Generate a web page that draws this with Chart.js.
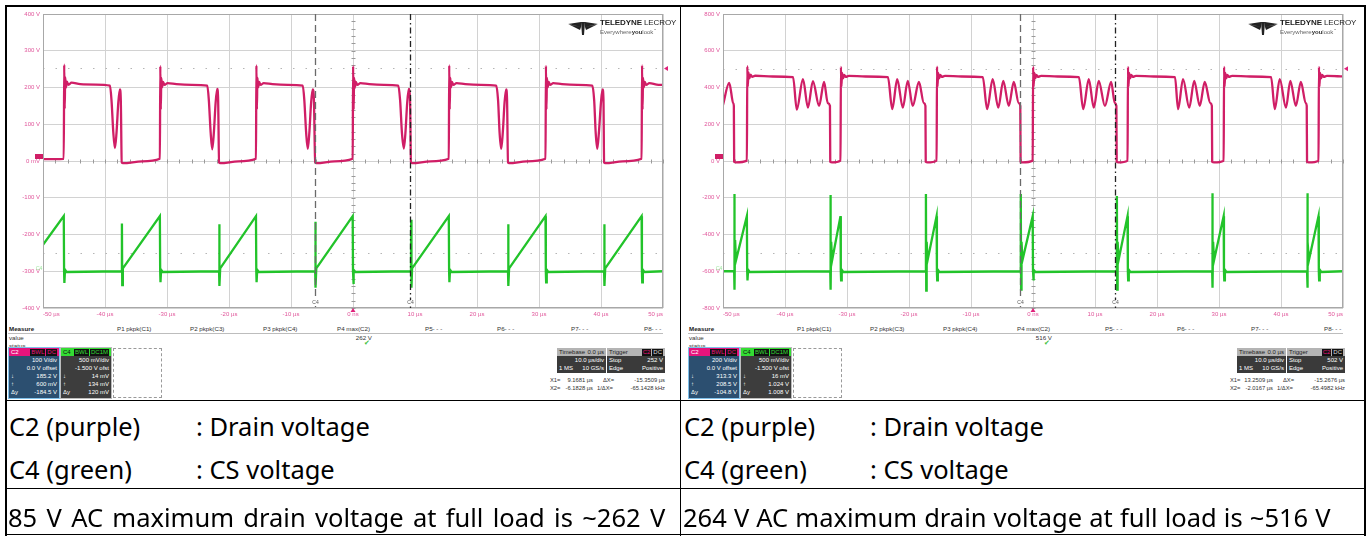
<!DOCTYPE html>
<html>
<head>
<meta charset="utf-8">
<script src="https://cdn.jsdelivr.net/npm/chart.js@4.4.1/dist/chart.umd.min.js"></script>
<style>
  body { margin: 0; width: 1370px; height: 536px; background: #fff; position: relative; overflow: hidden;
         font-family: "Liberation Sans", Arial, sans-serif; }
  .a { position: absolute; white-space: nowrap; }
  .s { font-size: 6.2px; line-height: 7px; color: #333; }
  .xs { font-size: 5.8px; line-height: 7px; color: #333; }
  .ln { position: absolute; background: #000; }
  .box { position: absolute; font-size: 6px; line-height: 8px; color: #fff; }
  .box .hd { height: 8px; position: relative; }
  .box .row { position: relative; height: 8px; padding: 0 2px; }
  .box .r { position: absolute; right: 2px; }
  .box .l { position: absolute; left: 2px; }
  .tag { display: inline-block; background: #111; padding: 0 1px; margin-left: 1px; line-height: 7px; }
  .big { position: absolute; font-family: "Noto Sans", sans-serif; font-size: 25.5px; line-height: 36px; color: #000; white-space: nowrap; }
  canvas { position: absolute; }
</style>
</head>
<body>

<canvas id="scopeL" width="672" height="318" style="left:7px;top:7px"></canvas>
<canvas id="scopeR" width="672" height="318" style="left:687px;top:7px"></canvas>

<div id="panels"></div>

<!-- table lines -->
<div class="ln" style="left:5px;top:5px;width:1361px;height:2px"></div>
<div class="ln" style="left:5px;top:5px;width:2px;height:531px"></div>
<div class="ln" style="left:680px;top:5px;width:1px;height:531px"></div>
<div class="ln" style="left:1364px;top:5px;width:2px;height:531px"></div>
<div class="ln" style="left:5px;top:400px;width:1361px;height:1px"></div>
<div class="ln" style="left:5px;top:488px;width:1361px;height:1px"></div>
<div class="ln" style="left:5px;top:534px;width:1361px;height:1px"></div>

<div class="big" style="left:9px;top:408px">C2 (purple)</div>
<div class="big" style="left:196px;top:408px">: Drain voltage</div>
<div class="big" style="left:9px;top:451px">C4 (green)</div>
<div class="big" style="left:196px;top:451px">: CS voltage</div>
<div class="big" style="left:8px;top:499px;word-spacing:2.7px">85 V AC maximum drain voltage at full load is ~262 V</div>

<div class="big" style="left:684px;top:408px">C2 (purple)</div>
<div class="big" style="left:870px;top:408px">: Drain voltage</div>
<div class="big" style="left:684px;top:451px">C4 (green)</div>
<div class="big" style="left:870px;top:451px">: CS voltage</div>
<div class="big" style="left:683px;top:499px;word-spacing:0.5px">264 V AC maximum drain voltage at full load is ~516 V</div>

<script>
// ---- data: [time in µs, volts on screen] ----
// 85 V AC, C2 drain (100 V/div)
const drainLow = [
  [-50, 5], [-46.65, 6],
  [-46.58, 262], [-46.5, 142], [-46.42, 228], [-46.3, 200], [-46.15, 216], [-45.9, 207], [-45.4, 213], [-44, 209], [-41.5, 208], [-39.2, 205],
  [-38.95, 165], [-38.65, 75], [-38.4, 35], [-38.15, 75], [-37.85, 160], [-37.6, 195], [-37.45, 165], [-37.3, -4],
  [-37.1, -6], [-34, -1], [-31.15, 6],
  [-31.08, 258], [-31.0, 140], [-30.92, 226], [-30.8, 200], [-30.65, 215], [-30.4, 207], [-29.9, 212], [-28.5, 209], [-26, 207], [-23.5, 205],
  [-23.25, 165], [-22.95, 75], [-22.7, 32], [-22.45, 75], [-22.15, 160], [-21.9, 196], [-21.75, 165], [-21.6, -4],
  [-21.4, -6], [-18.5, -1], [-15.65, 6],
  [-15.58, 260], [-15.5, 140], [-15.42, 227], [-15.3, 200], [-15.15, 215], [-14.9, 207], [-14.4, 212], [-13, 209], [-10.5, 207], [-8.1, 205],
  [-7.85, 165], [-7.55, 75], [-7.3, 33], [-7.05, 75], [-6.75, 160], [-6.5, 195], [-6.3, 165], [-6.1, -4],
  [-5.9, -6], [-3, -1], [-0.05, 6],
  [0.02, 258], [0.1, 140], [0.18, 226], [0.3, 200], [0.45, 215], [0.7, 207], [1.2, 212], [2.6, 209], [5, 207], [7.3, 205],
  [7.6, 165], [7.9, 75], [8.2, 34], [8.45, 75], [8.75, 160], [9.0, 196], [9.2, 165], [9.35, -4],
  [9.55, -6], [12.5, -1], [15.45, 6],
  [15.52, 260], [15.6, 140], [15.68, 227], [15.8, 200], [15.95, 215], [16.2, 207], [16.7, 212], [18.1, 209], [20.6, 207], [23.1, 205],
  [23.4, 165], [23.65, 75], [23.9, 33], [24.15, 75], [24.45, 160], [24.7, 195], [24.85, 165], [25.0, -4],
  [25.2, -6], [28, -1], [31.05, 6],
  [31.12, 259], [31.2, 140], [31.28, 226], [31.4, 200], [31.55, 215], [31.8, 207], [32.3, 212], [33.7, 209], [36.2, 207], [38.6, 205],
  [38.9, 165], [39.15, 75], [39.4, 33], [39.65, 75], [40.0, 160], [40.25, 195], [40.4, 165], [40.5, -4],
  [40.7, -6], [43.5, -1], [46.55, 6],
  [46.62, 260], [46.7, 140], [46.78, 226], [46.9, 200], [47.05, 215], [47.3, 207], [47.8, 212], [49, 208], [50, 207]
];
// 85 V AC, C4 current sense
const csLow = [
  [-50, -228], [-46.65, -150], [-46.6, -300], [-46.55, -332], [-46.45, -296], [-46.2, -302],
  [-37.3, -300], [-37.27, -170], [-37.22, -338], [-37.12, -292],
  [-31.15, -150], [-31.1, -300], [-31.05, -330], [-30.95, -296], [-30.7, -302],
  [-21.6, -300], [-21.57, -172], [-21.52, -340], [-21.42, -292],
  [-15.65, -150], [-15.6, -300], [-15.55, -330], [-15.45, -296], [-15.2, -302],
  [-6.1, -300], [-6.07, -165], [-6.02, -345], [-5.92, -292],
  [-0.05, -150], [0, -300], [0.05, -335], [0.15, -296], [0.4, -302],
  [9.35, -300], [9.38, -160], [9.43, -345], [9.53, -292],
  [15.45, -150], [15.5, -300], [15.55, -330], [15.65, -296], [15.9, -302],
  [25.0, -300], [25.03, -172], [25.08, -340], [25.18, -292],
  [31.05, -150], [31.1, -300], [31.15, -330], [31.25, -296], [31.5, -302],
  [40.5, -300], [40.53, -172], [40.58, -340], [40.68, -292],
  [46.55, -150], [46.6, -300], [46.65, -330], [46.75, -296], [47, -302],
  [50, -300]
];
// 264 V AC, C2 drain (200 V/div)
const drainHigh = [
  [-50, 305], [-49.0, 425], [-48.35, 315], [-48.25, 300], [-48.2, -4], [-47.9, -8], [-46.15, 2],
  [-46.08, 516], [-46.0, 405], [-45.9, 482], [-45.75, 450], [-45.55, 470], [-45.3, 458], [-44.8, 464], [-42, 460], [-38.7, 457],
  [-38.1, 280], [-37.1, 445], [-36.3, 290], [-35.5, 435], [-34.5, 300], [-33.7, 430], [-33.1, 315], [-32.75, 300], [-32.7, -4], [-32.4, -8], [-31.05, 2],
  [-30.98, 512], [-30.9, 405], [-30.8, 480], [-30.65, 450], [-30.45, 468], [-30.2, 458], [-29.7, 463], [-27, 460], [-23.4, 457],
  [-22.7, 282], [-21.9, 445], [-21.0, 290], [-20.2, 436], [-19.4, 300], [-18.4, 430], [-17.6, 315], [-17.35, 300], [-17.3, -4], [-17.0, -8], [-15.55, 2],
  [-15.48, 514], [-15.4, 405], [-15.3, 480], [-15.15, 450], [-14.95, 468], [-14.7, 458], [-14.2, 463], [-11.5, 460], [-8.1, 457],
  [-7.4, 282], [-6.5, 446], [-5.6, 290], [-4.8, 436], [-3.9, 300], [-3.1, 430], [-2.3, 315], [-2.05, 300], [-2.0, -4], [-1.7, -8], [-0.05, 2],
  [0.02, 512], [0.1, 405], [0.2, 480], [0.35, 450], [0.55, 468], [0.8, 458], [1.3, 463], [4, 460], [7.4, 457],
  [8.1, 282], [9.0, 446], [9.8, 290], [10.6, 436], [11.6, 300], [12.6, 430], [13.2, 315], [13.45, 300], [13.5, -4], [13.8, -8], [15.25, 2],
  [15.32, 512], [15.4, 405], [15.5, 480], [15.65, 450], [15.85, 468], [16.1, 458], [16.6, 463], [19.5, 460], [22.9, 457],
  [23.4, 282], [24.2, 446], [25.2, 290], [26.0, 436], [26.9, 300], [27.7, 430], [28.6, 315], [28.85, 300], [28.9, -4], [29.2, -8], [30.75, 2],
  [30.82, 512], [30.9, 405], [31.0, 480], [31.15, 450], [31.35, 468], [31.6, 458], [32.1, 463], [35, 460], [38.4, 457],
  [39.0, 282], [39.8, 446], [40.8, 290], [41.5, 436], [42.4, 300], [43.2, 430], [44.0, 315], [44.15, 300], [44.2, -4], [44.5, -8], [46.05, 2],
  [46.12, 512], [46.2, 405], [46.3, 480], [46.45, 450], [46.65, 468], [46.9, 458], [47.4, 463], [50, 460]
];
// 264 V AC, C4 current sense
const csHigh = [
  [-50, -600], [-48.2, -600], [-48.17, -180], [-48.12, -700], [-48.05, -430], [-47.9, -540], [-46.15, -300], [-46.1, -600], [-46.05, -650], [-45.95, -592], [-45.7, -604],
  [-32.7, -600], [-32.67, -185], [-32.62, -700], [-32.55, -440], [-32.4, -540], [-31.05, -300], [-31.0, -600], [-30.95, -650], [-30.85, -592], [-30.6, -604],
  [-17.3, -600], [-17.27, -180], [-17.22, -705], [-17.15, -440], [-17.0, -540], [-15.55, -300], [-15.5, -600], [-15.45, -650], [-15.35, -592], [-15.1, -604],
  [-2.0, -600], [-1.97, -180], [-1.92, -700], [-1.85, -440], [-1.7, -540], [-0.05, -300], [0, -600], [0.05, -650], [0.15, -592], [0.4, -604],
  [13.5, -600], [13.53, -190], [13.58, -700], [13.65, -440], [13.8, -540], [15.25, -300], [15.3, -600], [15.35, -650], [15.45, -592], [15.7, -604],
  [28.9, -600], [28.93, -175], [28.98, -690], [29.05, -440], [29.2, -540], [30.75, -300], [30.8, -600], [30.85, -650], [30.95, -592], [31.2, -604],
  [44.2, -600], [44.23, -175], [44.28, -690], [44.35, -440], [44.5, -540], [46.05, -300], [46.1, -600], [46.15, -650], [46.25, -592], [46.5, -604],
  [50, -600]
];

const cursorsLow = [9.1681, -6.1828];    // X1, X2 in µs
const cursorsHigh = [13.2509, -2.0167];
const trigLow = 252, trigHigh = 502;

const MAGENTA = '#d01e66';
const GREEN = '#22c32a';
const PINK_TXT = '#e0559a';

const scopeDeco = {
  id: 'scopeDeco',
  beforeDatasetsDraw(chart, args, o) {
    const { ctx, chartArea: a, scales: { x, y } } = chart;
    ctx.save();
    ctx.strokeStyle = '#b5b5b5';
    ctx.lineWidth = 1;
    ctx.setLineDash([1.5, 11]);
    [o.trig, -o.trig + 2].forEach(v => {
      const py = Math.round(y.getPixelForValue(v)) + 0.5;
      ctx.beginPath(); ctx.moveTo(a.left, py); ctx.lineTo(a.right, py); ctx.stroke();
    });
    ctx.setLineDash([]);
    // minor ticks on the centre axes
    ctx.strokeStyle = '#9a9a9a';
    const y0 = Math.round(y.getPixelForValue(0)) + 0.5;
    const x0 = Math.round(x.getPixelForValue(0)) + 0.5;
    ctx.beginPath();
    for (let t = x.min; t <= x.max; t += 2) {
      const px = Math.round(x.getPixelForValue(t)) + 0.5;
      ctx.moveTo(px, y0 - 2); ctx.lineTo(px, y0 + 2);
    }
    for (let v = y.min; v <= y.max; v += o.minor) {
      const py = Math.round(y.getPixelForValue(v)) + 0.5;
      ctx.moveTo(x0 - 2, py); ctx.lineTo(x0 + 2, py);
    }
    ctx.stroke();
    ctx.restore();
  },
  afterDatasetsDraw(chart, args, o) {
    const { ctx, chartArea: a, scales: { x, y } } = chart;
    ctx.save();
    // frame
    ctx.strokeStyle = '#a8a8a8';
    ctx.lineWidth = 1;
    ctx.strokeRect(a.left + 0.5, a.top + 0.5, a.right - a.left - 1, a.bottom - a.top - 1);
    // cursors
    const styles = [{ c: '#222', d: [6, 3, 1.5, 3] }, { c: '#6a6a6a', d: [7, 4] }];
    o.cursors.forEach((t, i) => {
      const px = Math.round(x.getPixelForValue(t)) + 0.5;
      ctx.strokeStyle = styles[i].c;
      ctx.lineWidth = 1.3;
      ctx.setLineDash(styles[i].d);
      ctx.beginPath(); ctx.moveTo(px, a.top); ctx.lineTo(px, a.bottom); ctx.stroke();
      ctx.setLineDash([]);
      ctx.fillStyle = '#fff';
      ctx.fillRect(px - 4, a.bottom - 8, 8, 6);
      ctx.fillStyle = '#555';
      ctx.font = '5px "Liberation Sans"';
      ctx.textAlign = 'center';
      ctx.textBaseline = 'middle';
      ctx.fillText('C4', px, a.bottom - 5);
    });
    // channel markers
    const y0 = y.getPixelForValue(0);
    ctx.fillStyle = MAGENTA;
    ctx.fillRect(a.left - 8, y0 - 7, 8, 5);
    ctx.fillStyle = '#9be59b';
    ctx.font = '5px "Liberation Sans"';
    ctx.textAlign = 'left';
    ctx.textBaseline = 'middle';
    ctx.fillText('C4', a.left - 7, y.getPixelForValue(o.csBase) - 3);
    // trigger markers
    const ty = y.getPixelForValue(o.trig);
    ctx.fillStyle = '#e0207a';
    ctx.beginPath();
    ctx.moveTo(a.right + 1, ty); ctx.lineTo(a.right + 5, ty - 2.5); ctx.lineTo(a.right + 5, ty + 2.5); ctx.closePath(); ctx.fill();
    const tx = x.getPixelForValue(0);
    ctx.beginPath();
    ctx.moveTo(tx, a.bottom); ctx.lineTo(tx - 2.5, a.bottom + 4); ctx.lineTo(tx + 2.5, a.bottom + 4); ctx.closePath(); ctx.fill();
    ctx.restore();
  }
};

function makeScope(id, drain, cs, span, step, zeroLbl, deco) {
  const toXY = pts => pts.map(p => ({ x: p[0], y: p[1] }));
  return new Chart(document.getElementById(id), {
    type: 'line',
    data: {
      datasets: [
        { data: toXY(cs), borderColor: GREEN, borderWidth: 2.3, pointRadius: 0, tension: 0 },
        { data: toXY(drain), borderColor: MAGENTA, borderWidth: 2.3, pointRadius: 0, cubicInterpolationMode: 'monotone' }
      ]
    },
    options: {
      responsive: false, animation: false, devicePixelRatio: 1,
      layout: { padding: { top: 7, right: 16, left: 0, bottom: 0 } },
      plugins: { legend: { display: false }, tooltip: { enabled: false }, scopeDeco: deco },
      scales: {
        x: {
          type: 'linear', min: -50, max: 50,
          afterFit: s => { s.height = 17; },
          border: { display: false },
          grid: { color: '#d2d2d2', drawTicks: false },
          ticks: {
            stepSize: 10, autoSkip: false, maxRotation: 0, align: 'inner', padding: 3,
            color: PINK_TXT, font: { family: 'Liberation Sans', size: 6 },
            callback: v => v === 0 ? '0 ns' : v + ' µs'
          }
        },
        y: {
          type: 'linear', min: -span, max: span,
          afterFit: s => { s.width = 36; },
          border: { display: false },
          grid: { color: '#d2d2d2', drawTicks: false },
          ticks: {
            stepSize: step, autoSkip: false, padding: 3,
            color: PINK_TXT, font: { family: 'Liberation Sans', size: 6 },
            callback: v => v === 0 ? zeroLbl : v + ' V'
          }
        }
      }
    },
    plugins: [scopeDeco]
  });
}

makeScope('scopeL', drainLow, csLow, 400, 100, '0 mV',
  { trig: trigLow, cursors: cursorsLow, minor: 20, csBase: -300 });
makeScope('scopeR', drainHigh, csHigh, 800, 200, '0 V',
  { trig: trigHigh, cursors: cursorsHigh, minor: 40, csBase: -600 });

// ---- readout panels under each screen ----
const panelInfo = [
  { dx: 0, c2: ['100 V/div', '0.0 V offset', '185.2 V', '600 mV', '-184.5 V'],
    c4: ['500 mV/div', '-1.500 V ofst', '14 mV', '134 mV', '120 mV'],
    p4: '262 V', trig: '252 V', x1: '9.1681 µs', x2: '-6.1828 µs', dX: '-15.3509 µs', inv: '-65.1428 kHz' },
  { dx: 680, c2: ['200 V/div', '0.0 V offset', '313.3 V', '208.5 V', '-104.8 V'],
    c4: ['500 mV/div', '-1.500 V ofst', '16 mV', '1.024 V', '1.008 V'],
    p4: '516 V', trig: '502 V', x1: '13.2509 µs', x2: '-2.0167 µs', dX: '-15.2676 µs', inv: '-65.4982 kHz' }
];
const measHeads = [['P1 pkpk(C1)', 117], ['P2 pkpk(C3)', 190], ['P3 pkpk(C4)', 263], ['P4 max(C2)', 337],
                   ['P5- - -', 425], ['P6- - -', 497], ['P7- - -', 571], ['P8- - -', 644]];

function chanBox(left, head, headBg, tags, tagColor, bodyBg, border, lines) {
  const marks = ['', '', '↓', '↑', 'Δy'];
  let h = `<div class="box" style="left:${left}px;top:348px;width:50px;height:50px;background:${bodyBg};outline:1px solid ${border}">`;
  h += `<div class="hd" style="background:${headBg};color:#111"><span class="l" style="color:${head === 'C2' ? '#fff' : '#111'}">${head}</span>`;
  h += `<span class="r">${tags.map(t => `<span class="tag" style="color:${tagColor}">${t}</span>`).join('')}</span></div>`;
  lines.forEach((t, i) => {
    h += `<div class="row"><span class="l">${marks[i]}</span><span class="r">${t}</span></div>`;
  });
  return h + '</div>';
}

let html = '';
panelInfo.forEach(p => {
  const d = p.dx;
  html += `<div class="a s" style="left:${9 + d}px;top:325px;font-weight:bold;color:#222">Measure</div>`;
  measHeads.forEach(m => { html += `<div class="a s" style="left:${m[1] + d}px;top:325px">${m[0]}</div>`; });
  html += `<div class="a" style="left:${8 + d}px;top:333px;width:655px;height:1px;background:#bdbdbd"></div>`;
  html += `<div class="a s" style="left:${9 + d}px;top:334px">value</div>`;
  html += `<div class="a s" style="left:${9 + d}px;top:342px">status</div>`;
  html += `<div class="a s" style="left:${340 + d}px;top:334px;width:32px;text-align:right">${p.p4}</div>`;
  html += `<div class="a" style="left:${364 + d}px;top:340px;font-size:7px;line-height:7px;color:#3fbf3f;font-family:'DejaVu Sans'">✔</div>`;
  html += chanBox(9 + d, 'C2', '#e5147c', ['BWL', 'DC'], '#e5147c', '#2c4f70', '#7fc0ea', p.c2);
  html += chanBox(61 + d, 'C4', '#33dd33', ['BWL', 'DC1M'], '#33dd33', '#3d3d3d', '#bbb', p.c4);
  html += `<div class="a" style="left:${113 + d}px;top:348px;width:49px;height:50px;border:1px dashed #9a9a9a;box-sizing:border-box"></div>`;
  // timebase and trigger
  html += `<div class="box" style="left:${557 + d}px;top:348px;width:49px;height:25px;background:#3a3a3a">
      <div class="hd" style="background:#b4b4b4;color:#222"><span class="l">Timebase</span><span class="r">0.0 µs</span></div>
      <div class="row"><span class="r">10.0 µs/div</span></div>
      <div class="row"><span class="l">1 MS</span><span class="r">10 GS/s</span></div></div>`;
  html += `<div class="box" style="left:${607 + d}px;top:348px;width:58px;height:25px;background:#3a3a3a">
      <div class="hd" style="background:#b4b4b4;color:#222"><span class="l">Trigger</span><span class="r"><span class="tag" style="color:#e5147c">C2</span><span class="tag" style="color:#ddd">DC</span></span></div>
      <div class="row"><span class="l">Stop</span><span class="r">${p.trig}</span></div>
      <div class="row"><span class="l">Edge</span><span class="r">Positive</span></div></div>`;
  html += `<div class="a xs" style="left:${550 + d}px;top:377px">X1=</div>
           <div class="a xs" style="left:${556 + d}px;top:377px;width:37px;text-align:right">${p.x1}</div>
           <div class="a xs" style="left:${603 + d}px;top:377px">ΔX=</div>
           <div class="a xs" style="left:${612 + d}px;top:377px;width:53px;text-align:right">${p.dX}</div>
           <div class="a xs" style="left:${550 + d}px;top:385px">X2=</div>
           <div class="a xs" style="left:${556 + d}px;top:385px;width:37px;text-align:right">${p.x2}</div>
           <div class="a xs" style="left:${597 + d}px;top:385px">1/ΔX=</div>
           <div class="a xs" style="left:${612 + d}px;top:385px;width:53px;text-align:right">${p.inv}</div>`;
  // logo
  html += `<svg class="a" style="left:${568 + d}px;top:21px" width="30" height="14" viewBox="0 0 30 14">
      <path d="M0 3 L13 1 L13 6 Z M30 3 L17 1 L17 6 Z M1 3.5 L12 9 L13 6 Z M29 3.5 L18 9 L17 6 Z M13 1 L17 1 L16 14 L14 14 Z" fill="#222"/></svg>`;
  html += `<div class="a" style="left:${600 + d}px;top:19px;font-size:8px;line-height:8px;color:#222;letter-spacing:-0.1px"><b>TELEDYNE</b> LECROY</div>`;
  html += `<div class="a" style="left:${600 + d}px;top:27px;font-size:6px;line-height:6px;color:#666">Everywhere<b style="color:#333">you</b>look<sup style="font-size:3px">™</sup></div>`;
});
document.getElementById('panels').innerHTML = html;
</script>
</body>
</html>
